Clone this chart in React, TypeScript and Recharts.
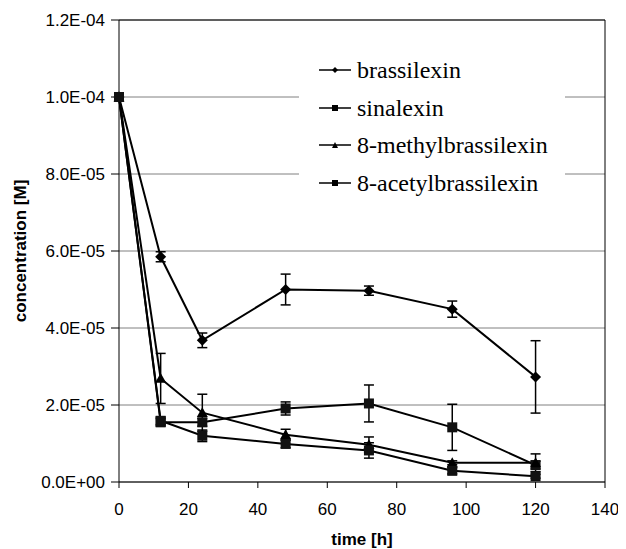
import React from "react";
import {
  LineChart,
  Line,
  XAxis,
  YAxis,
  CartesianGrid,
  ErrorBar,
  ReferenceLine,
} from "recharts";

const times = [0, 12, 24, 48, 72, 96, 120];

const brassilexin = [1.0e-4, 5.85e-5, 3.68e-5, 5.0e-5, 4.97e-5, 4.49e-5, 2.73e-5];
const brassilexinErr = [0, 0.13e-5, 0.19e-5, 0.4e-5, 0.12e-5, 0.21e-5, 0.94e-5];

const sinalexin = [1.0e-4, 1.55e-5, 1.55e-5, 1.91e-5, 2.04e-5, 1.42e-5, 0.44e-5];
const sinalexinErr = [0, 0.1e-5, 0.1e-5, 0.17e-5, 0.48e-5, 0.6e-5, 0.1e-5];

const methyl = [1.0e-4, 2.69e-5, 1.8e-5, 1.23e-5, 0.97e-5, 0.5e-5, 0.5e-5];
const methylErr = [0, 0.65e-5, 0.48e-5, 0.14e-5, 0.2e-5, 0.05e-5, 0.23e-5];

const acetyl = [1.0e-4, 1.59e-5, 1.2e-5, 0.99e-5, 0.82e-5, 0.29e-5, 0.15e-5];
const acetylErr = [0, 0.1e-5, 0.15e-5, 0.1e-5, 0.2e-5, 0.08e-5, 0.05e-5];

const yTicks = [0, 2e-5, 4e-5, 6e-5, 8e-5, 1e-4, 1.2e-4];
const xTicks = [0, 20, 40, 60, 80, 100, 120, 140];

const seriesNames = ["brassilexin", "sinalexin", "8-methylbrassilexin", "8-acetylbrassilexin"];

const chartData = times.map((t, i) => ({
  time: t,
  b: brassilexin[i],
  bErr: brassilexinErr[i],
  s: sinalexin[i],
  sErr: sinalexinErr[i],
  m: methyl[i],
  mErr: methylErr[i],
  a: acetyl[i],
  aErr: acetylErr[i],
}));

const fmtExp = (v: number) => {
  if (v === 0) return "0.0E+00";
  const [mant, exp] = v.toExponential(1).split("e");
  const e = parseInt(exp, 10);
  const sign = e < 0 ? "-" : "+";
  return `${mant}E${sign}${String(Math.abs(e)).padStart(2, "0")}`;
};

const Diamond = (props: any) => {
  const { cx, cy, key } = props;
  if (cx == null || cy == null) return <g key={key} />;
  const r = 5.5;
  return (
    <path
      key={key}
      d={`M${cx},${cy - r}L${cx + r},${cy}L${cx},${cy + r}L${cx - r},${cy}Z`}
      fill="#000"
    />
  );
};

const Square = (props: any) => {
  const { cx, cy, key } = props;
  if (cx == null || cy == null) return <g key={key} />;
  const r = 5;
  return <rect key={key} x={cx - r} y={cy - r} width={2 * r} height={2 * r} fill="#111" />;
};

const Triangle = (props: any) => {
  const { cx, cy, key } = props;
  if (cx == null || cy == null) return <g key={key} />;
  const r = 5.5;
  return (
    <path
      key={key}
      d={`M${cx},${cy - r}L${cx + r},${cy + r * 0.8}L${cx - r},${cy + r * 0.8}Z`}
      fill="#000"
    />
  );
};

const markerFor = (i: number, size: number) => {
  const c = size / 2;
  if (i === 0)
    return <path d={`M${c},0L${size},${c}L${c},${size}L0,${c}Z`} fill="#000" />;
  if (i === 2)
    return <path d={`M${c},0L${size},${size}L0,${size}Z`} fill="#000" />;
  return <rect x={0} y={0} width={size} height={size} fill="#000" />;
};

const ChartLegend = () => (
  <div
    style={{
      position: "absolute",
      left: 291,
      top: 35,
      background: "#fff",
      width: 266,
      padding: "8px 0",
      fontFamily: "'Liberation Serif', 'Times New Roman', serif",
      fontSize: 24,
      color: "#000",
    }}
  >
    {seriesNames.map((name, i) => (
      <div
        key={name}
        style={{ display: "flex", alignItems: "center", height: 37.8, paddingLeft: 20 }}
      >
        <svg width={32} height={10} style={{ marginRight: 6 }}>
          <line x1={0} y1={5} x2={32} y2={5} stroke="#000" strokeWidth={1.5} />
          <g transform="translate(13,2)">{markerFor(i, 6)}</g>
        </svg>
        <span style={{ lineHeight: "24px" }}>{name}</span>
      </div>
    ))}
  </div>
);

const App: React.FC = () => {
  const axisFont = { fontFamily: "'Liberation Sans', Arial, sans-serif", fontSize: 17, fill: "#000" };
  const labelFont = { fontFamily: "'Liberation Sans', Arial, sans-serif", fontSize: 17, fontWeight: "bold", fill: "#000" };
  return (
    <div style={{ position: "relative", width: 610, height: 541 }}>
      <LineChart
        width={610}
        height={541}
        data={chartData}
        margin={{ top: 12, right: 13, bottom: 0, left: 0 }}
      >
        <CartesianGrid horizontal vertical={false} stroke="#808080" strokeWidth={1} />
        <XAxis
          dataKey="time"
          type="number"
          domain={[0, 140]}
          ticks={xTicks}
          tick={axisFont}
          tickSize={6}
          tickMargin={15}
          height={67}
          stroke="#000"
          label={{ value: "time [h]", position: "insideBottom", offset: 4, style: labelFont }}
        />
        <YAxis
          type="number"
          domain={[0, 1.2e-4]}
          ticks={yTicks}
          tickFormatter={fmtExp}
          tick={axisFont}
          tickSize={8}
          tickMargin={6}
          width={111}
          stroke="#000"
          label={{
            value: "concentration [M]",
            angle: -90,
            position: "insideLeft",
            offset: 12,
            style: { ...labelFont, textAnchor: "middle" },
          }}
        />
        <ReferenceLine y={1.2e-4} stroke="#000" strokeWidth={1} />
        <ReferenceLine x={140} stroke="#000" strokeWidth={1} />
        <Line dataKey="b" stroke="#000" strokeWidth={2} dot={Diamond} isAnimationActive={false}>
          <ErrorBar dataKey="bErr" width={5} stroke="#000" strokeWidth={1.5} direction="y" />
        </Line>
        <Line dataKey="s" stroke="#000" strokeWidth={2} dot={Square} isAnimationActive={false}>
          <ErrorBar dataKey="sErr" width={5} stroke="#000" strokeWidth={1.5} direction="y" />
        </Line>
        <Line dataKey="m" stroke="#000" strokeWidth={2} dot={Triangle} isAnimationActive={false}>
          <ErrorBar dataKey="mErr" width={5} stroke="#000" strokeWidth={1.5} direction="y" />
        </Line>
        <Line dataKey="a" stroke="#000" strokeWidth={2} dot={Square} isAnimationActive={false}>
          <ErrorBar dataKey="aErr" width={5} stroke="#000" strokeWidth={1.5} direction="y" />
        </Line>
      </LineChart>
      <ChartLegend />
    </div>
  );
};

export default App;
